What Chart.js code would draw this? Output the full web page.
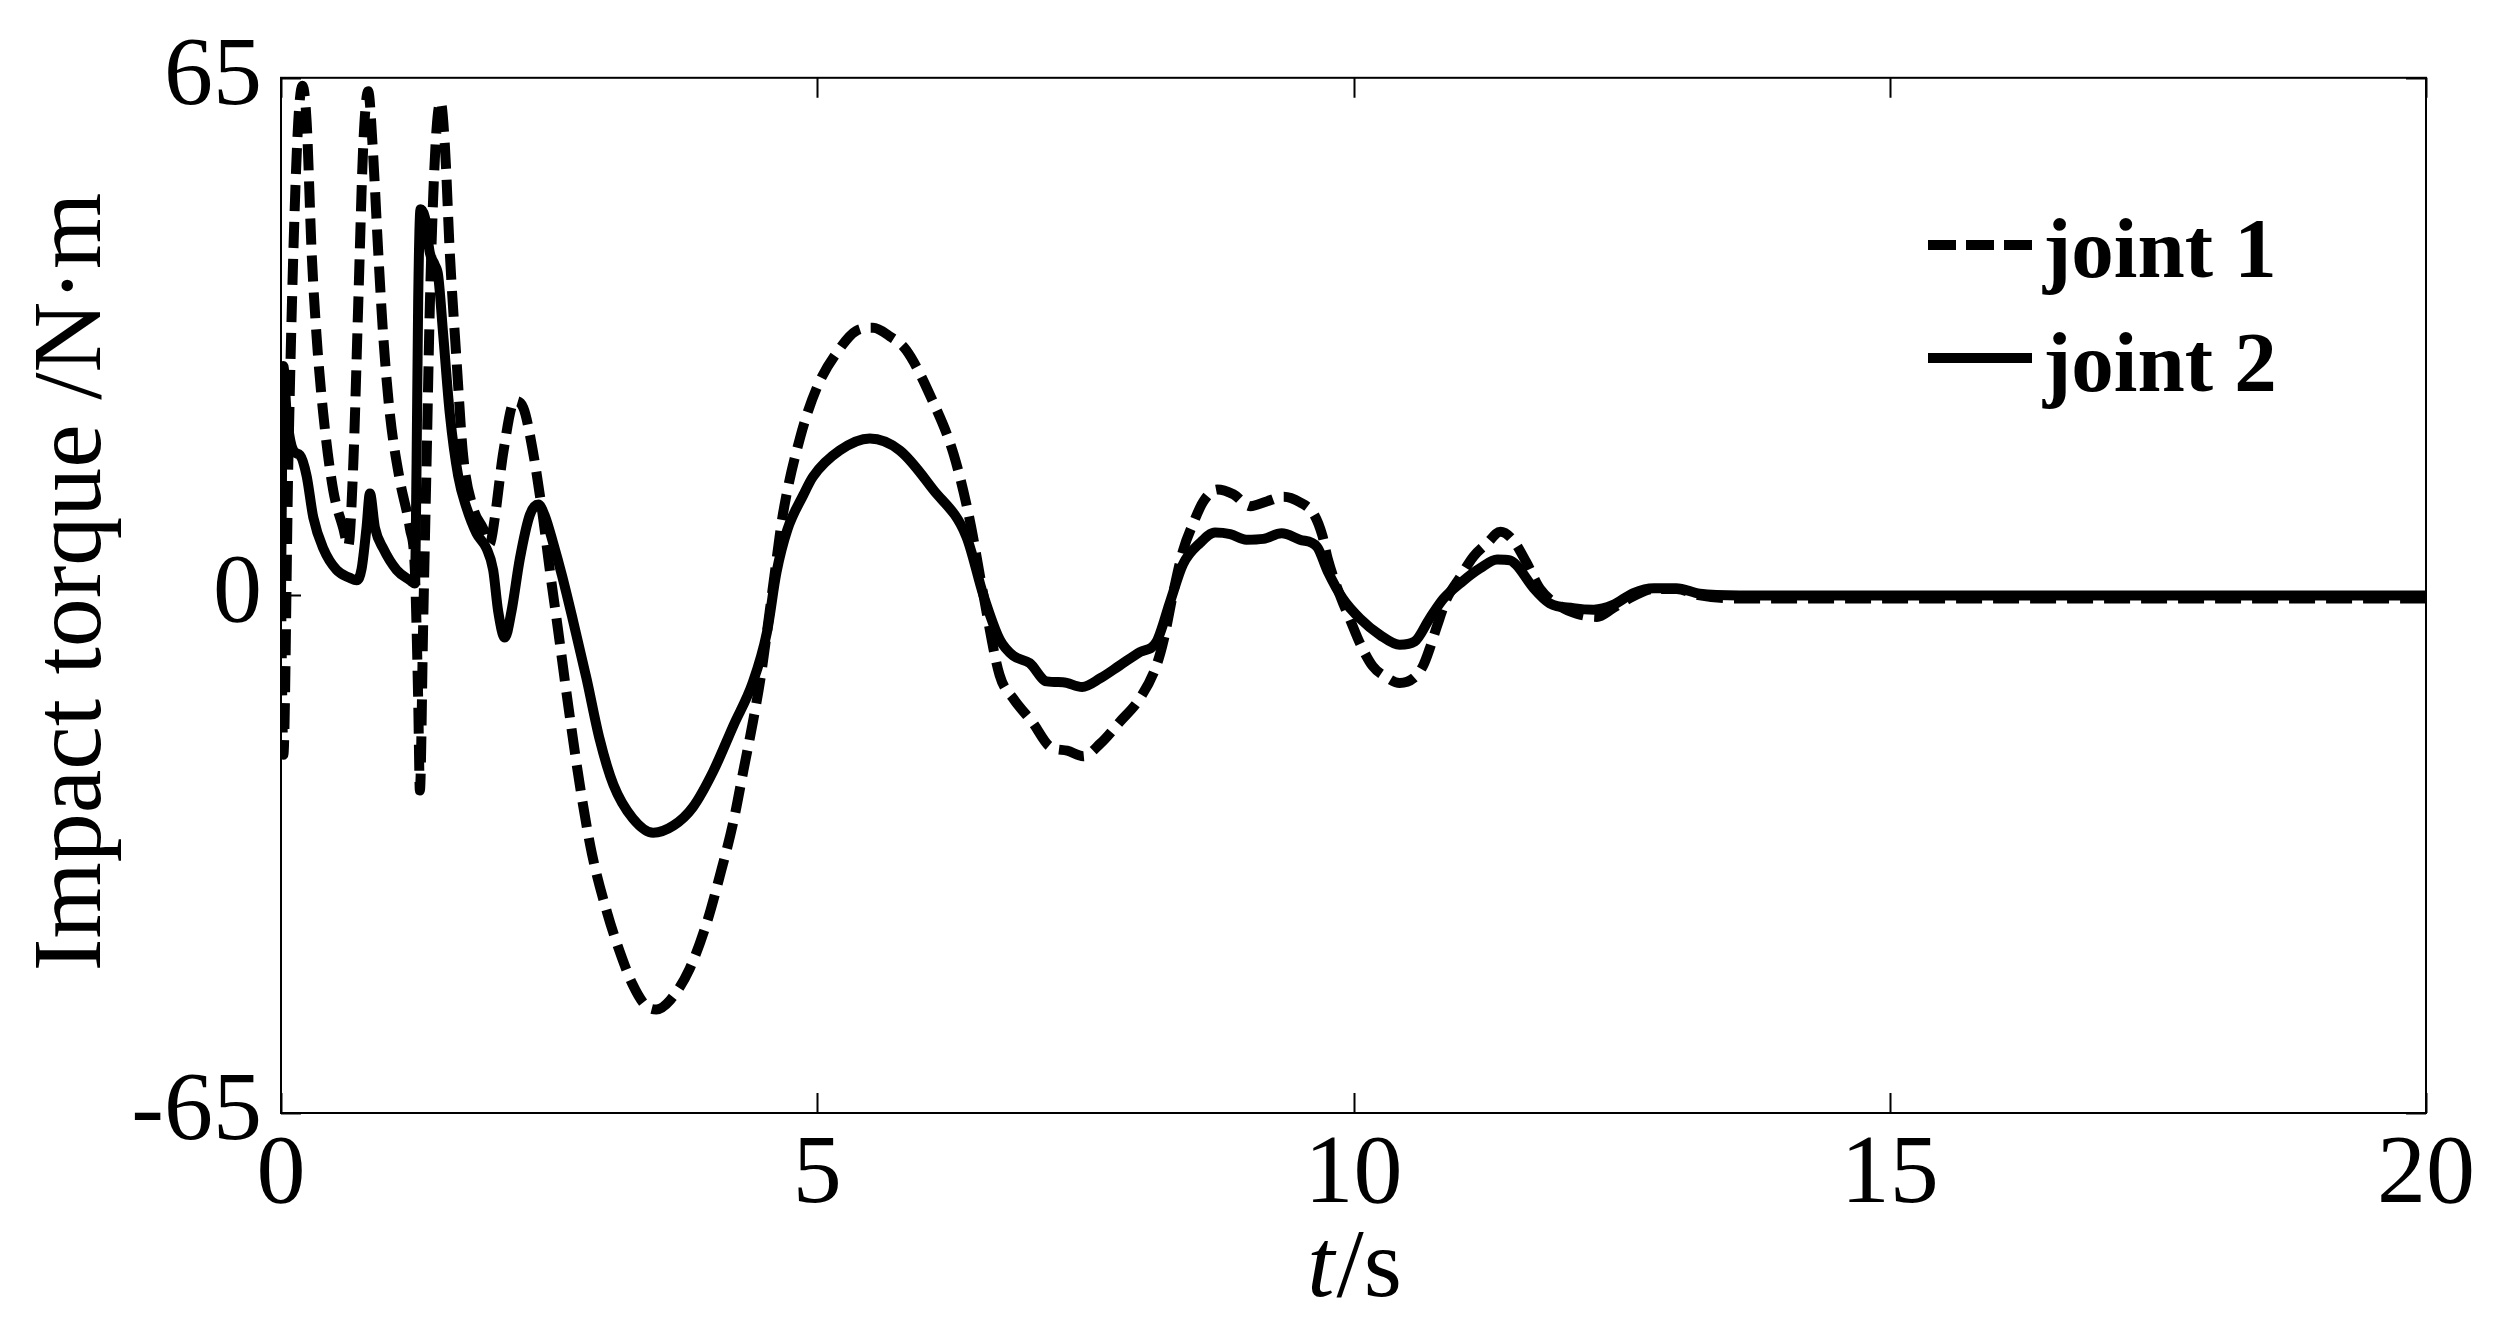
<!DOCTYPE html>
<html>
<head>
<meta charset="utf-8">
<script src="https://cdn.jsdelivr.net/npm/chart.js@4.4.1/dist/chart.umd.min.js"></script>
<style>
  html, body { margin: 0; padding: 0; background: #ffffff; }
  canvas { display: block; }
</style>
</head>
<body>
<canvas id="c" width="2505" height="1335"></canvas>
<script>
// ---------------- data ----------------
const seriesNames = ['joint 1', 'joint 2'];
const xTickValues = [0, 5, 10, 15, 20];
const yTickValues = [-65, 0, 65];
const xTitleItalic = 't';
const xTitleRest = '/s';
const yTitle = 'Impact torque /N\u00B7m';

const timeJoint1 = [
  0, 0.022, 0.068, 0.115, 0.161, 0.200, 0.239, 0.286, 0.332, 0.394, 0.487, 0.581, 0.627,
  0.674, 0.720, 0.767, 0.813, 0.854, 0.907, 0.953, 1.015, 1.109, 1.202, 1.248, 1.279, 1.295,
  1.326, 1.357, 1.388, 1.419, 1.450, 1.488, 1.528, 1.574, 1.637, 1.698, 1.791, 1.885, 1.947,
  1.994, 2.073, 2.180, 2.258, 2.350, 2.443, 2.506, 2.58, 2.68, 2.80, 2.90, 3.04, 3.16, 3.28,
  3.40, 3.50, 3.63, 3.81, 3.97, 4.09, 4.22, 4.31, 4.40, 4.47, 4.53, 4.60, 4.68, 4.84, 5.00,
  5.21, 5.36, 5.52, 5.68, 5.83, 6.08, 6.27, 6.42, 6.55, 6.70, 6.83, 7.01, 7.17, 7.33, 7.48,
  7.64, 7.82, 8.01, 8.16, 8.23, 8.32, 8.41, 8.51, 8.60, 8.73, 8.88, 9.04, 9.19, 9.35, 9.50,
  9.63, 9.71, 9.76, 9.88, 9.97, 10.06, 10.18, 10.31, 10.43, 10.56, 10.65, 10.71, 10.78, 10.87,
  10.99, 11.12, 11.25, 11.37, 11.49, 11.61, 11.74, 11.93, 12.08, 12.27, 12.42, 12.61, 12.80,
  13.01, 13.23, 13.6, 15, 17, 20
];
const torqueJoint1 = [
  0, -20, 16.5, 43, 59.5, 64, 59.5, 43, 32.5, 22.8, 13.2, 8.4, 6.2,
  16.5, 36.5, 56.5, 63.3, 56.5, 43, 32.6, 22.8, 14.4, 8.4, 3.2, -13, -24.5,
  -3.3, 16.5, 36.5, 50, 58.5, 62, 56.5, 43, 29.5, 17.6, 11, 8.4, 6.5,
  9.8, 18, 24.4, 23.6, 18, 9.8, 3.2, -4, -14, -25, -32.5, -39.8, -44.8, -48.9,
  -51.5, -52, -50.8, -46.9, -41.1, -35.3, -28.3, -22.1, -15.9, -10.5, -4.7, 2.4, 10.2, 19.8, 26.2,
  31, 33.2, 33.6, 32.5, 30.8, 24.3, 17.8, 9.6, 0, -10, -13, -16, -19, -19.5, -20.2,
  -18.6, -15.9, -12.9, -8.9, -5.6, 0.4, 5.6, 9.2, 11.8, 13.3, 12.7, 11.2, 11.8, 12.4, 11.7,
  10.2, 7.5, 4.6, -0.2, -3.1, -6, -8.9, -10.3, -11, -10.4, -8.8, -6.7, -3.8, -0.4,
  2.2, 4.9, 6.6, 8, 6.9, 4.2, 0.8, -1.4, -2.3, -2.7, -1.6, -0.1, 0.8,
  0.8, 0, -0.4, -0.4, -0.4, -0.4
];

const timeJoint2 = [
  0, 0.022, 0.053, 0.115, 0.177, 0.239, 0.301, 0.394, 0.518, 0.643, 0.705, 0.751, 0.798,
  0.829, 0.876, 0.953, 1.078, 1.202, 1.248, 1.264, 1.279, 1.301, 1.341, 1.388, 1.434, 1.465,
  1.512, 1.574, 1.652, 1.730, 1.823, 1.916, 1.978, 2.025, 2.087, 2.149, 2.227, 2.320, 2.40,
  2.460, 2.537, 2.62, 2.72, 2.85, 2.97, 3.10, 3.28, 3.47, 3.66, 3.84, 4.03, 4.22, 4.40, 4.53,
  4.62, 4.72, 4.87, 4.96, 5.21, 5.49, 5.77, 6.08, 6.39, 6.55, 6.70, 6.83, 6.98, 7.14, 7.29,
  7.47, 7.64, 7.82, 8.01, 8.16, 8.29, 8.41, 8.57, 8.71, 8.85, 9.00, 9.16, 9.33, 9.50, 9.66,
  9.76, 9.90, 10.06, 10.25, 10.43, 10.57, 10.71, 10.84, 11.02, 11.18, 11.34, 11.46, 11.52,
  11.68, 11.83, 12.05, 12.24, 12.42, 12.61, 12.80, 13.01, 13.23, 13.6, 20
];
const torqueJoint2 = [
  0, 28.8, 22.8, 18.2, 17.6, 15, 9.8, 5.9, 3.2, 2.2, 1.9, 3.3, 8.6,
  12.8, 8.5, 5.9, 3.2, 1.9, 1.5, 16.5, 37, 48.5, 47.5, 43, 41.5, 40.2,
  32.8, 22.8, 15, 11, 7.8, 5.9, 3.2, -2, -5.3, -2, 4.6, 10.1, 11.4,
  10, 6.6, 2.5, -3, -10.5, -18, -23.8, -28, -29.8, -28.9, -26.6, -22.1, -16.3, -10.9, -4.7,
  2.9, 8.2, 12.6, 14.9, 18.2, 19.7, 18.2, 13.3, 7.4, 0, -5.5, -7.6, -8.5, -10.8, -10.9,
  -11.5, -10.4, -8.8, -7.1, -5.9, -0.8, 3.9, 6.6, 7.9, 7.7, 7, 7.1, 7.8, 7, 6.1,
  3, -0.4, -2.9, -5, -6.2, -5.8, -2.9, -0.4, 1.8, 3.4, 4.5, 4.4, 3.8,
  0.9, -1, -1.6, -1.8, -1.2, 0.3, 0.9, 0.9, 0.2, 0, 0
];

// ---------------- chart ----------------
const SERIF = "'Liberation Serif', 'Times New Roman', Times, serif";
const toPoints = (xs, ys) => xs.map((x, i) => ({ x: x, y: ys[i] }));

const framePlugin = {
  id: 'frame',
  afterDatasetsDraw(chart) {
    const ctx = chart.ctx;
    const a = chart.chartArea;
    const xs = chart.scales.x, ys = chart.scales.y;
    ctx.save();
    ctx.strokeStyle = '#000';
    ctx.lineWidth = 2;
    ctx.setLineDash([]);
    ctx.strokeRect(a.left, a.top, a.right - a.left, a.bottom - a.top);
    const tl = 20;
    ctx.beginPath();
    xTickValues.forEach(v => {
      const px = Math.round(xs.getPixelForValue(v)) + 0.5;
      ctx.moveTo(px, a.bottom); ctx.lineTo(px, a.bottom - tl);
      ctx.moveTo(px, a.top); ctx.lineTo(px, a.top + tl);
    });
    yTickValues.forEach(v => {
      const py = Math.round(ys.getPixelForValue(v)) + 0.5;
      ctx.moveTo(a.left, py); ctx.lineTo(a.left + tl, py);
      ctx.moveTo(a.right, py); ctx.lineTo(a.right - tl, py);
    });
    ctx.stroke();
    ctx.restore();
  },
  afterDraw(chart) {
    const ctx = chart.ctx;
    const a = chart.chartArea;
    ctx.save();
    ctx.fillStyle = '#000';
    // y axis title
    ctx.font = '98px ' + SERIF;
    ctx.textAlign = 'center';
    ctx.textBaseline = 'alphabetic';
    ctx.save();
    ctx.translate(100, 582);
    ctx.rotate(-Math.PI / 2);
    ctx.fillText(yTitle, 0, 0);
    ctx.restore();
    // x axis title: italic t + regular /s
    ctx.textAlign = 'left';
    ctx.font = 'italic 98px ' + SERIF;
    const w1 = ctx.measureText(xTitleItalic).width;
    ctx.font = '98px ' + SERIF;
    const w2 = ctx.measureText(xTitleRest).width;
    const cx = (a.left + a.right) / 2;
    const x0 = cx - (w1 + w2) / 2;
    ctx.font = 'italic 98px ' + SERIF;
    ctx.fillText(xTitleItalic, x0, 1296);
    ctx.font = '98px ' + SERIF;
    ctx.fillText(xTitleRest, x0 + w1 + 2, 1296);
    // legend
    const lx0 = 1928, lx1 = 2032, tx = 2043;
    const rows = [{ y: 245, base: 277, dash: [28, 10] }, { y: 358, base: 391, dash: [] }];
    rows.forEach((r, i) => {
      ctx.beginPath();
      ctx.lineWidth = 10;
      ctx.strokeStyle = '#000';
      ctx.lineCap = 'butt';
      ctx.setLineDash(r.dash);
      ctx.moveTo(lx0, r.y); ctx.lineTo(lx1, r.y);
      ctx.stroke();
      ctx.setLineDash([]);
      ctx.font = 'bold 85px ' + SERIF;
      ctx.fillText(seriesNames[i], tx, r.base);
    });
    ctx.restore();
  }
};

new Chart(document.getElementById('c'), {
  type: 'line',
  data: {
    datasets: [
      {
        label: seriesNames[0],
        data: toPoints(timeJoint1, torqueJoint1),
        borderColor: '#000',
        borderWidth: 10,
        borderDash: [26, 11],
        borderCapStyle: 'butt',
        pointRadius: 0,
        fill: false,
        cubicInterpolationMode: 'monotone'
      },
      {
        label: seriesNames[1],
        data: toPoints(timeJoint2, torqueJoint2),
        borderColor: '#000',
        borderWidth: 10,
        borderCapStyle: 'round',
        borderJoinStyle: 'round',
        pointRadius: 0,
        fill: false,
        cubicInterpolationMode: 'monotone'
      }
    ]
  },
  options: {
    responsive: false,
    animation: false,
    devicePixelRatio: 1,
    layout: { padding: { left: 0, right: 79, top: 64, bottom: 0 } },
    plugins: { legend: { display: false }, tooltip: { enabled: false }, title: { display: false } },
    scales: {
      x: {
        type: 'linear',
        min: 0, max: 20,
        afterBuildTicks: s => { s.ticks = xTickValues.map(v => ({ value: v })); },
        afterFit: s => { s.height = 222; },
        ticks: {
          font: { family: SERIF, size: 98 },
          color: '#000',
          padding: 4,
          maxRotation: 0,
          autoSkip: false,
          callback: v => String(v)
        },
        grid: { display: false, drawTicks: false },
        border: { display: false }
      },
      y: {
        type: 'linear',
        min: -65, max: 65,
        afterBuildTicks: s => { s.ticks = yTickValues.map(v => ({ value: v })); },
        afterFit: s => { s.width = 281; },
        ticks: {
          font: { family: SERIF, size: 98 },
          color: '#000',
          padding: 19,
          autoSkip: false,
          callback: v => String(v)
        },
        grid: { display: false, drawTicks: false },
        border: { display: false }
      }
    }
  },
  plugins: [framePlugin]
});
</script>
</body>
</html>
